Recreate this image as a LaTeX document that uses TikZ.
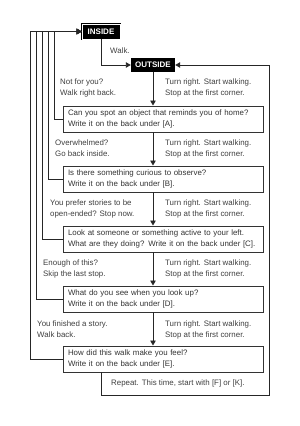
\documentclass[tikz,border=0pt]{standalone}
\usepackage{fontspec}
\setmainfont{Liberation Sans}
\usetikzlibrary{arrows.meta}
\begin{document}
\begin{tikzpicture}[x=1pt,y=-1pt,
  qbox/.style={draw=black!80, line width=0.95pt, fill=white, minimum width=200pt, minimum height=26pt,
    text width=190pt, inner xsep=5pt, inner ysep=0pt, align=left, font=\fontsize{7.9}{11}\selectfont, text=black!80},
  lbl/.style={anchor=west, align=left, inner sep=0pt, font=\fontsize{7.9}{11}\selectfont, text=black!75},
  conn/.style={draw=black!85, line width=0.9pt},
  arr/.style={conn, -{Triangle[length=5pt,width=5.5pt]}},
  tag/.style={fill=black, text=white, font=\bfseries\fontsize{8}{9.6}\selectfont, inner sep=0pt}
]
\fill[white] (0,0) rectangle (300,426);
\useasboundingbox (0,0) rectangle (300,426);

\node[tag, draw=black, line width=0.7pt, double=white, double distance=0.7pt,
      minimum width=38pt, minimum height=15pt] (inside) at (101,31.5) {INSIDE};
\node[tag, minimum width=44pt, minimum height=14pt] (outside) at (153,65) {OUTSIDE};

\node[qbox] (b1) at (163,119) {Can you spot an object that reminds you of home?\\Write it on the back under [A].};
\node[qbox] (b2) at (163,179) {Is there something curious to observe?\\Write it on the back under [B].};
\node[qbox] (b3) at (163,239) {Look at someone or something active to your left.\\What are they doing? Write it on the back under [C].};
\node[qbox] (b4) at (163,299) {What do you see when you look up?\\Write it on the back under [D].};
\node[qbox] (b5) at (163,359) {How did this walk make you feel?\\Write it on the back under [E].};

\node[lbl] (walk) at (110,51) {Walk.};
\node[lbl] (l1) at (60,87.5) {Not for you?\\Walk right back.};
\node[lbl] (r1) at (165,87.5) {Turn right. Start walking.\\Stop at the first corner.};
\node[lbl] (l2) at (55,148.5) {Overwhelmed?\\Go back inside.};
\node[lbl] (r2) at (165,148.5) {Turn right. Start walking.\\Stop at the first corner.};
\node[lbl] (l3) at (50,208.5) {You prefer stories to be\\open-ended? Stop now.};
\node[lbl] (r3) at (165,208.5) {Turn right. Start walking.\\Stop at the first corner.};
\node[lbl] (l4) at (43,268.5) {Enough of this?\\Skip the last stop.};
\node[lbl] (r4) at (165,268.5) {Turn right. Start walking.\\Stop at the first corner.};
\node[lbl] (l5) at (37,329.5) {You finished a story.\\Walk back.};
\node[lbl] (r5) at (165,329.5) {Turn right. Start walking.\\Stop at the first corner.};
\node[lbl] (rep) at (111,383.5) {Repeat. This time, start with [F] or [K].};

% inside -> outside
\draw[arr] (inside.south) |- (outside.west);
% main flow
\draw[arr] (outside.south) -- (outside |- b1.north);
\draw[arr] (outside |- b1.south) -- (outside |- b2.north);
\draw[arr] (outside |- b2.south) -- (outside |- b3.north);
\draw[arr] (outside |- b3.south) -- (outside |- b4.north);
\draw[arr] (outside |- b4.south) -- (outside |- b5.north);
% back to inside
\draw[arr] (b1.west) -- ++(-8,0) |- (inside.west);
\draw[arr] (b2.west) -- ++(-14,0) |- (inside.west);
\draw[arr] (b3.west) -- ++(-20,0) |- (inside.west);
\draw[arr] (b4.west) -- ++(-26,0) |- (inside.west);
\draw[arr] (b5.west) -- ++(-32,0) |- (inside.west);
% repeat loop
\coordinate (ret) at (269,395);
\draw[arr] (inside |- b5.south) |- (ret) |- (outside.east);
\end{tikzpicture}
\end{document}
